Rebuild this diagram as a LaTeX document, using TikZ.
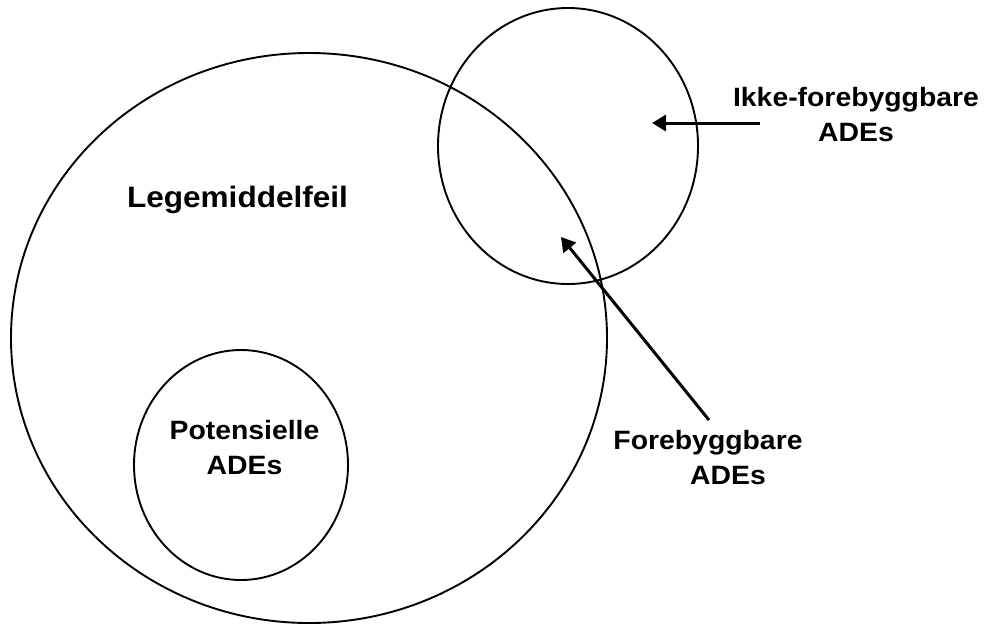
\documentclass[tikz,border=0pt]{standalone}
\usepackage{fontspec}
\setmainfont{Liberation Sans}
\usetikzlibrary{shapes.geometric,arrows.meta}
\newcommand{\wline}[1]{\scalebox{1.07}[1]{#1}}
\tikzset{
  setshape/.style={draw, ellipse, inner sep=0pt, line width=1.9pt},
  lbl/.style={font=\bfseries\fontsize{26.5}{35}\selectfont, align=center, inner sep=0pt},
  pointer/.style={line width=3pt, -{Triangle[length=14pt,width=16pt]}}
}
\begin{document}
\begin{tikzpicture}[x=1pt,y=-1pt]
\useasboundingbox (0,0) rectangle (984,625);
\node[setshape, minimum width=596pt, minimum height=570pt] (big) at (309,338) {};
\node[setshape, minimum width=260pt, minimum height=276pt] (nonprev) at (568,146) {};
\node[setshape, minimum width=214pt, minimum height=230pt] (pot) at (241,465) {};
\node[lbl, font=\bfseries\fontsize{29.5}{35}\selectfont] (legem) at (237.5,200) {\wline{Legemiddelfeil}};
\node[lbl] (potlbl) at (244.5,448) {\wline{Potensielle}\\\wline{ADEs}};
\node[lbl] (ikke) at (856,115) {\wline{Ikke-forebyggbare}\\\wline{ADEs}};
\node[lbl] (fore) at (708,457.5) {\wline{Forebyggbare}\\\hspace*{40pt}\wline{ADEs}};
\coordinate (ikkeTail) at (760,123);
\coordinate (ikkeTip) at (652,123);
\coordinate (foreTail) at (709,420);
\coordinate (foreTip) at (561,237);
\draw[pointer] (ikkeTail) -- (ikkeTip);
\draw[pointer] (foreTail) -- (foreTip);
\end{tikzpicture}
\end{document}
